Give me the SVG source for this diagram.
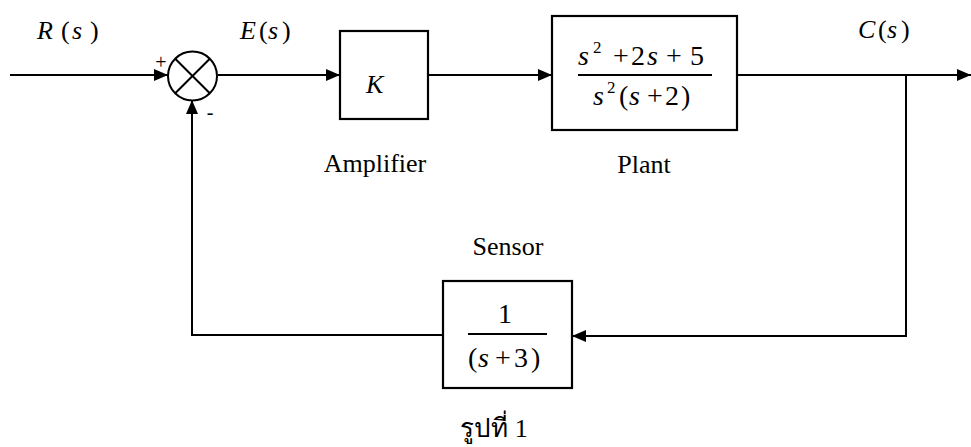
<svg xmlns="http://www.w3.org/2000/svg" width="971" height="447" viewBox="0 0 971 447">
<style>
.ln{stroke:#000;stroke-width:2;fill:none}
.box{stroke:#000;stroke-width:2.2;fill:#fff}
text{fill:#000;font-family:"Liberation Serif",serif}
.it{font-style:italic}
.lb{font-size:26px}
.m{font-size:28px}
</style>
<defs>
<marker id="ar" viewBox="0 0 14 12" refX="14" refY="6" markerWidth="14" markerHeight="12" markerUnits="userSpaceOnUse" orient="auto">
<path d="M0,0 L14,6 L0,12 Z" fill="#000"/>
</marker>
</defs>
<g id="connectors">
<line class="ln" x1="10" y1="75" x2="168" y2="75" marker-end="url(#ar)"/>
<line class="ln" x1="218" y1="75" x2="340" y2="75" marker-end="url(#ar)"/>
<line class="ln" x1="428" y1="75" x2="552" y2="75" marker-end="url(#ar)"/>
<line class="ln" x1="737" y1="75" x2="971" y2="75" marker-end="url(#ar)"/>
<polyline class="ln" points="906,75 906,336 572,336" marker-end="url(#ar)"/>
<polyline class="ln" points="443,335 192,335 192,100" marker-end="url(#ar)"/>
</g>
<g id="sum">
<circle cx="192.5" cy="76" r="24.5" class="ln"/>
<line class="ln" x1="175.2" y1="58.7" x2="209.8" y2="93.3"/>
<line class="ln" x1="209.8" y1="58.7" x2="175.2" y2="93.3"/>
<text x="161" y="69" text-anchor="middle" font-size="20">+</text>
<text x="210" y="119" text-anchor="middle" font-size="20">-</text>
</g>
<g id="amplifier">
<rect x="340" y="31" width="88" height="88" class="box"/>
<text x="366" y="93" class="it" font-size="26">K</text>
<text x="375" y="172" text-anchor="middle" class="lb">Amplifier</text>
</g>
<g id="plant">
<rect x="552" y="16" width="185" height="114" class="box"/>
<text y="65" class="m"><tspan x="578" class="it">s</tspan><tspan x="593" y="53" font-size="17">2</tspan><tspan x="613" y="65">+</tspan><tspan x="631">2</tspan><tspan x="647" class="it">s</tspan><tspan x="666">+</tspan><tspan x="690">5</tspan></text>
<line class="ln" x1="578" y1="75" x2="712" y2="75"/>
<text y="105" class="m"><tspan x="593" class="it">s</tspan><tspan x="607" y="93" font-size="17">2</tspan><tspan x="619" y="105">(</tspan><tspan x="629" class="it">s</tspan><tspan x="647">+</tspan><tspan x="665">2</tspan><tspan x="681">)</tspan></text>
<text x="644" y="173" text-anchor="middle" class="lb">Plant</text>
</g>
<g id="sensor">
<rect x="443" y="281" width="129" height="107" class="box"/>
<text x="505" y="323" text-anchor="middle" class="m">1</text>
<line class="ln" x1="468" y1="334" x2="547" y2="334"/>
<text y="367" class="m"><tspan x="468">(</tspan><tspan x="478" class="it">s</tspan><tspan x="495">+</tspan><tspan x="514">3</tspan><tspan x="531">)</tspan></text>
<text x="508" y="255" text-anchor="middle" class="lb">Sensor</text>
</g>
<g id="labels">
<text y="39" font-size="26"><tspan x="37" class="it">R</tspan><tspan x="61">(</tspan><tspan x="72" class="it">s</tspan><tspan x="90">)</tspan></text>
<text y="39" font-size="26"><tspan x="240" class="it">E</tspan><tspan x="259">(</tspan><tspan x="268" class="it">s</tspan><tspan x="282">)</tspan></text>
<text y="38" font-size="26"><tspan x="858" class="it">C</tspan><tspan x="878">(</tspan><tspan x="887" class="it">s</tspan><tspan x="901">)</tspan></text>
<text x="494" y="437" text-anchor="middle" font-size="26">รูปที่ 1</text>
</g>
</svg>
